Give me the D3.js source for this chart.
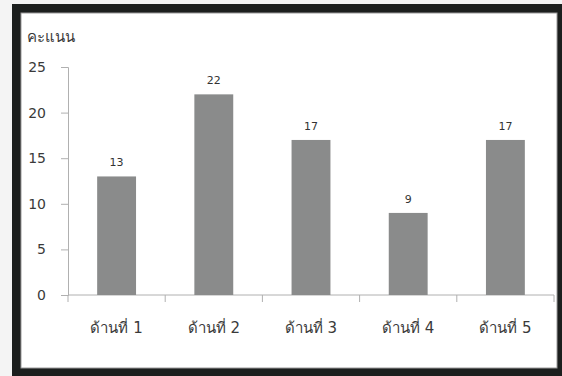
<!DOCTYPE html>
<html>
<head>
<meta charset="utf-8">
<script src="https://cdn.jsdelivr.net/npm/d3@7"></script>
<style>
  html, body { margin: 0; padding: 0; background: #f4f4f4; }
  svg { display: block; }
  text { font-family: Tahoma, "DejaVu Sans", "Noto Sans", sans-serif; }
</style>
</head>
<body>
<svg id="chart" width="562" height="376"></svg>
<script>
// Scores per aspect
const categories = ["ด้านที่ 1", "ด้านที่ 2", "ด้านที่ 3", "ด้านที่ 4", "ด้านที่ 5"];
const scores = [13, 22, 17, 9, 17];
const yTicks = [0, 5, 10, 15, 20, 25];
const yTitle = "คะแนน";

const svg = d3.select("#chart");

// Black picture frame with white panel
svg.append("rect").attr("x", 12).attr("y", 4).attr("width", 550).attr("height", 372).attr("fill", "#1c1f1e");
svg.append("rect").attr("x", 21).attr("y", 13).attr("width", 536).attr("height", 355)
  .attr("fill", "#ffffff").attr("stroke", "#9a9a9a").attr("stroke-width", 1);

const plot = { left: 68, right: 554, top: 67, bottom: 295 };

const x = d3.scaleBand().domain(categories).range([plot.left, plot.right]).paddingInner(0.6).paddingOuter(0.3);
const xTicks = d3.scaleBand().domain(categories).range([plot.left, plot.right]);
const y = d3.scaleLinear().domain([0, 25]).range([plot.bottom, plot.top]);

// Y axis
const yAxis = svg.append("g").attr("transform", `translate(${plot.left},0)`)
  .call(d3.axisLeft(y).tickValues(yTicks).tickSize(7).tickPadding(15));
yAxis.select(".domain").attr("stroke", "#b0b0b0");
yAxis.selectAll(".tick line").attr("stroke", "#b0b0b0");
yAxis.selectAll(".tick text").attr("fill", "#3a3a3a").attr("font-size", 14)
  .attr("font-family", "Tahoma, 'DejaVu Sans', sans-serif");

// X axis baseline with boundary ticks between categories
const xg = svg.append("g");
xg.append("line").attr("x1", plot.left).attr("x2", plot.right)
  .attr("y1", plot.bottom).attr("y2", plot.bottom).attr("stroke", "#b0b0b0");
const bounds = categories.map(c => xTicks(c)).concat([plot.right]);
xg.selectAll("line.bt").data(bounds).join("line").attr("class", "bt")
  .attr("x1", d => d).attr("x2", d => d)
  .attr("y1", plot.bottom).attr("y2", plot.bottom + 7).attr("stroke", "#b0b0b0");
xg.selectAll("text").data(categories).join("text")
  .attr("x", d => xTicks(d) + xTicks.bandwidth() / 2)
  .attr("y", 333)
  .attr("text-anchor", "middle")
  .attr("font-size", 15).attr("fill", "#3a3a3a")
  .text(d => d);

// Bars
svg.append("g").selectAll("rect").data(scores).join("rect")
  .attr("x", (d, i) => x(categories[i]))
  .attr("y", d => y(d))
  .attr("width", x.bandwidth())
  .attr("height", d => y(0) - y(d))
  .attr("fill", "#8a8b8b");

// Value labels
svg.append("g").selectAll("text").data(scores).join("text")
  .attr("x", (d, i) => x(categories[i]) + x.bandwidth() / 2)
  .attr("y", d => y(d) - 10)
  .attr("text-anchor", "middle")
  .attr("font-size", 11).attr("fill", "#333")
  .text(d => d);

// Y title
svg.append("text").attr("x", 27).attr("y", 42)
  .attr("font-size", 15).attr("fill", "#3a3a3a").text(yTitle);
</script>
</body>
</html>
